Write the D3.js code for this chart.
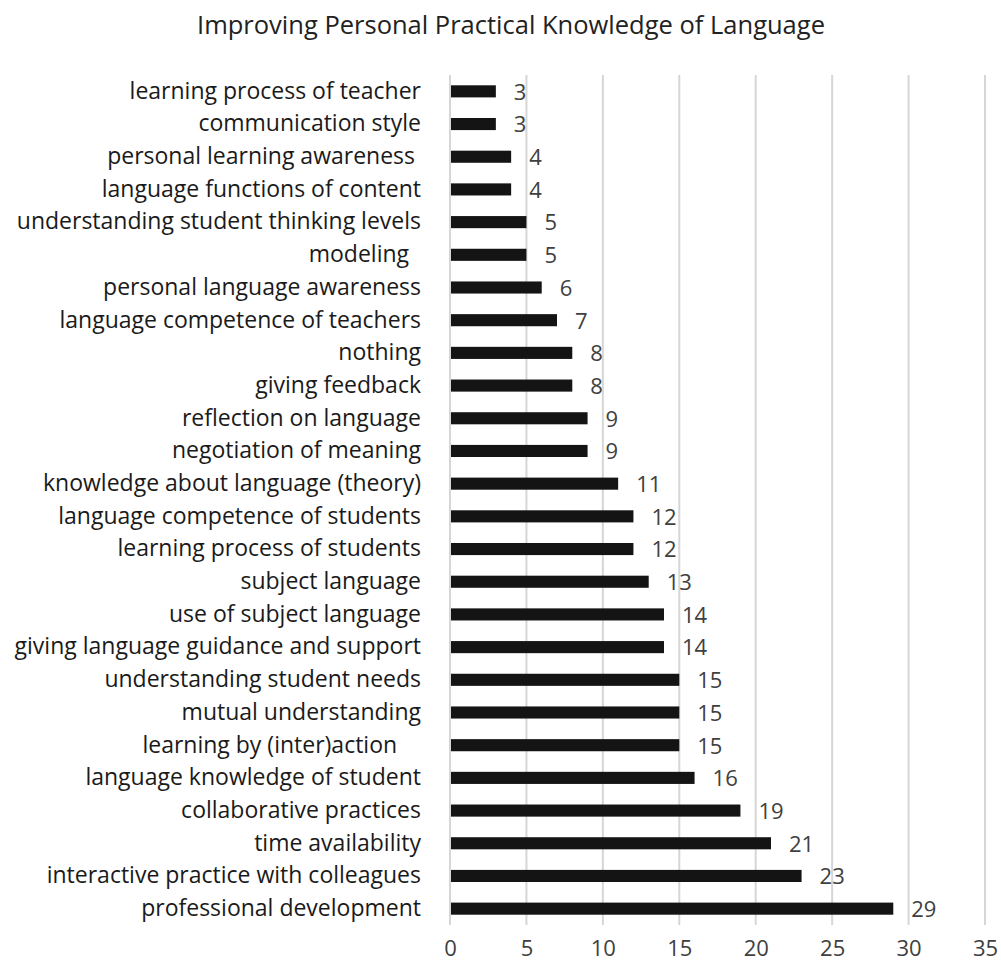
<!DOCTYPE html>
<html>
<head>
<meta charset="utf-8">
<script src="https://cdn.jsdelivr.net/npm/d3@7"></script>
<style>
  html, body { margin: 0; padding: 0; background: #fff; }
  svg text { white-space: pre; }
</style>
</head>
<body>
<svg id="chart" width="1001" height="963"></svg>
<script>
const title = "Improving Personal Practical Knowledge of Language";
const categories = [
  "learning process of teacher",
  "communication style",
  "personal learning awareness ",
  "language functions of content",
  "understanding student thinking levels",
  "modeling  ",
  "personal language awareness",
  "language competence of teachers",
  "nothing",
  "giving feedback",
  "reflection on language",
  "negotiation of meaning",
  "knowledge about language (theory)",
  "language competence of students",
  "learning process of students",
  "subject language",
  "use of subject language",
  "giving language guidance and support",
  "understanding student needs",
  "mutual understanding",
  "learning by (inter)action    ",
  "language knowledge of student",
  "collaborative practices",
  "time availability",
  "interactive practice with colleagues",
  "professional development"
];
const values = [3,3,4,4,5,5,6,7,8,8,9,9,11,12,12,13,14,14,15,15,15,16,19,21,23,29];
const xTicks = [0,5,10,15,20,25,30,35];

const svg = d3.select("#chart");
const x = d3.scaleLinear().domain([0,35]).range([450,985]);
const y = d3.scaleBand().domain(categories).range([75,925]).paddingInner(0.63).paddingOuter(0.315);

svg.append("text")
  .attr("x", 511).attr("y", 34)
  .attr("text-anchor","middle")
  .attr("font-family","'Open Sans', sans-serif")
  .attr("font-size", 25.5)
  .attr("fill","#222")
  .text(title);

// gridlines
svg.append("g").selectAll("line").data(xTicks).join("line")
  .attr("x1", d => x(d)).attr("x2", d => x(d))
  .attr("y1", 75).attr("y2", 925)
  .attr("stroke", "#d6d6d6").attr("stroke-width", 2);

// x axis labels
const xAxis = d3.axisBottom(x).tickValues(xTicks).tickSize(0).tickPadding(0);
const gx = svg.append("g").attr("transform","translate(0,956)").call(xAxis);
gx.select(".domain").remove();
gx.selectAll("text")
  .attr("font-family","'Open Sans', sans-serif")
  .attr("font-size", 22)
  .attr("fill","#404040")
  .attr("dy","0");

// y axis labels
const yAxis = d3.axisLeft(y).tickSize(0).tickPadding(0);
const gy = svg.append("g").attr("transform","translate(421,0)").call(yAxis);
gy.select(".domain").remove();
gy.selectAll("text")
  .attr("font-family","'Open Sans', sans-serif")
  .attr("font-size", 23)
  .attr("fill","#1a1a1a");

// bars
svg.append("g").selectAll("rect").data(values).join("rect")
  .attr("x", x(0) + 1)
  .attr("y", (d,i) => y(categories[i]))
  .attr("width", d => x(d) - x(0) - 1)
  .attr("height", y.bandwidth())
  .attr("fill", "#141414");

// value labels
svg.append("g").selectAll("text").data(values).join("text")
  .attr("x", d => x(d) + 18)
  .attr("y", (d,i) => y(categories[i]) + y.bandwidth()/2)
  .attr("dy","0.38em")
  .attr("font-family","'Open Sans', sans-serif")
  .attr("font-size", 22)
  .attr("fill","#404040")
  .text(d => d);
</script>
</body>
</html>
